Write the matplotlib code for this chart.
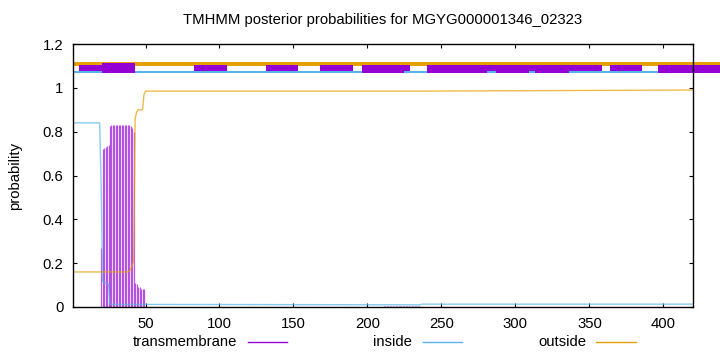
import matplotlib
matplotlib.use("Agg")
import matplotlib.pyplot as plt
from matplotlib.lines import Line2D

plt.rcParams['font.family'] = ['Liberation Sans', 'DejaVu Sans']

title = "TMHMM posterior probabilities for MGYG000001346_02323"
seq_len = 420

# transmembrane posterior (impulses)
tm_x = [20, 21, 22, 23, 24, 25, 26, 27, 28, 29, 30, 31, 32, 33, 34, 35, 36, 37, 38, 39,
        40, 41, 42, 43, 44, 45, 46, 47, 48, 49]
tm_y = [0.27, 0.72, 0.725, 0.73, 0.735, 0.74, 0.825, 0.83, 0.83, 0.83, 0.83, 0.83, 0.83,
        0.83, 0.83, 0.83, 0.83, 0.83, 0.83, 0.83, 0.825, 0.815, 0.80, 0.11, 0.105, 0.09,
        0.09, 0.08, 0.08, 0.08]
tm2_x = list(range(211, 236))
tm2_y = [0.004] * 25

# inside posterior (line)
in_x = [1, 19, 20, 21, 25, 26, 27, 235, 237, 420]
in_y = [0.84, 0.84, 0.57, 0.115, 0.105, 0.015, 0.012, 0.010, 0.013, 0.013]

# outside posterior (line)
out_x = [1, 38, 40, 41, 42, 43, 44, 45, 48, 49, 50, 210, 236, 420]
out_y = [0.16, 0.16, 0.17, 0.19, 0.21, 0.86, 0.89, 0.90, 0.90, 0.97, 0.985, 0.985, 0.985, 0.99]

# predicted topology bars at top (start, end)
outside_bars = [(1, 445)]
inside_bars = [(1, 20.6), (43.1, 401)]
tm_bars = [(5.0, 20.8), (83.0, 105.3), (131.2, 153.0), (167.9, 190.2), (196.1, 228.7),
           (240.0, 358.7), (363.9, 385.7), (396.4, 445)]
tm_big = [(20.8, 43.1)]
tm_low = [(196.1, 225.0), (240.0, 280.6), (286.9, 309.4), (313.4, 336.4), (396.4, 445)]

c_tm = '#9400D3'
c_in = '#56B4E9'
c_out = '#E69F00'
fs = 10.7

fig = plt.figure(figsize=(7.2, 3.52), dpi=100)
ax = fig.add_axes([73/720, 1-307/352, 620/720, 263/352])

px = 1.2/263.0  # data units per pixel in y

def bars(segs, ycenter_px, h_px, color, z):
    yc = (307 - ycenter_px) * px
    h = h_px * px
    ax.broken_barh([(a, b - a) for a, b in segs], (yc - h/2, h), facecolors=color,
                   edgecolor='none', clip_on=False, zorder=z)

bars(outside_bars, 63.85, 3.7, c_out, 3)
bars(inside_bars, 72.0, 2.8, c_in, 4)
bars(tm_bars, 68.0, 5.4, c_tm, 5)
bars(tm_big, 68.0, 10.0, c_tm, 5)
bars(tm_low, 72.0, 2.8, c_tm, 5)

ax.vlines(tm_x, 0, tm_y, colors=c_tm, linewidth=0.9, alpha=0.65, zorder=2)
ax.vlines(tm2_x, 0, tm2_y, colors=c_tm, linewidth=0.9, alpha=0.65, zorder=2)
ax.plot(in_x, in_y, color=c_in, linewidth=1.0, alpha=0.7, zorder=3)
ax.plot(out_x, out_y, color=c_out, linewidth=1.0, alpha=0.7, zorder=3)

ax.set_xlim(1, seq_len)
ax.set_ylim(0, 1.2)
ax.set_xticks([50, 100, 150, 200, 250, 300, 350, 400])
ax.set_yticks([0, 0.2, 0.4, 0.6, 0.8, 1.0, 1.2])
ax.set_yticklabels(['0', '0.2', '0.4', '0.6', '0.8', '1', '1.2'])
ax.tick_params(direction='in', length=3, width=0.8, top=True, right=True,
               labelsize=fs, pad=7, colors='black')
for s in ax.spines.values():
    s.set_linewidth(1.0)
    s.set_color('black')
    s.set_zorder(6)

ax.set_ylabel('probability', fontsize=fs)
ax.yaxis.set_label_coords((22 - 73) / 620, 0.5)

fig.text(383/720, 1 - 20/352, title, ha='center', va='center', fontsize=fs)

# legend at bottom
ly = 1 - 342/352
items = [("transmembrane", 237, 248, 287, c_tm),
         ("inside", 412, 423, 462, c_in),
         ("outside", 586, 596, 636, c_out)]
for label, tx, l0, l1, col in items:
    fig.text(tx/720, ly, label, ha='right', va='center', fontsize=fs)
    fig.add_artist(Line2D([l0/720, l1/720], [ly, ly], color=col, linewidth=1.0,
                          transform=fig.transFigure))

fig.savefig('out.png', dpi=100)
